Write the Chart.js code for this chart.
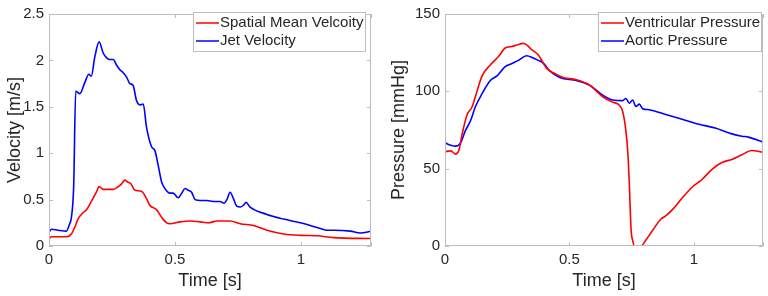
<!DOCTYPE html>
<html>
<head>
<meta charset="utf-8">
<script src="https://cdn.jsdelivr.net/npm/chart.js@4"></script>
<style>
  html, body { margin: 0; padding: 0; background: #fff; }
  .box { position: absolute; top: 0; width: 384px; height: 296px; }
  #left { left: 0; }
  #right { left: 384px; }
</style>
</head>
<body>
<div class="box" id="left"><canvas id="velChart" width="384" height="296"></canvas></div>
<div class="box" id="right"><canvas id="presChart" width="384" height="296"></canvas></div>
<script>
// Left panel: velocities over one cardiac cycle
const jetT = [0, 0.01, 0.036, 0.069, 0.082, 0.089, 0.098, 0.106, 0.122, 0.142, 0.158, 0.168, 0.182, 0.199,
  0.215, 0.228, 0.241, 0.255, 0.268, 0.281, 0.294, 0.308, 0.321, 0.334, 0.347, 0.361, 0.374, 0.387, 0.407,
  0.42, 0.434, 0.447, 0.46, 0.48, 0.493, 0.513, 0.527, 0.54, 0.553, 0.566, 0.58, 0.6, 0.626, 0.652, 0.679,
  0.695, 0.706, 0.719, 0.732, 0.745, 0.759, 0.772, 0.782, 0.798, 0.865, 0.931, 0.997, 1.064, 1.103, 1.13,
  1.196, 1.236, 1.279];
const jetV = [0.15, 0.18, 0.17, 0.16, 0.24, 0.31, 0.65, 1.67, 1.64, 1.76, 1.85, 1.83, 2.04, 2.20,
  2.08, 2.03, 2.01, 2.01, 1.95, 1.90, 1.87, 1.82, 1.75, 1.73, 1.57, 1.52, 1.53, 1.28, 1.07,
  1.03, 0.86, 0.69, 0.62, 0.57, 0.57, 0.52, 0.57, 0.62, 0.60, 0.58, 0.50, 0.49, 0.49, 0.48, 0.48,
  0.46, 0.50, 0.58, 0.51, 0.43, 0.42, 0.44, 0.47, 0.42, 0.34, 0.29, 0.25, 0.20, 0.17, 0.17,
  0.16, 0.14, 0.16];

const meanT = [0, 0.01, 0.069, 0.089, 0.102, 0.115, 0.135, 0.149, 0.168, 0.188, 0.199, 0.215, 0.255, 0.275,
  0.288, 0.301, 0.312, 0.325, 0.341, 0.367, 0.387, 0.4, 0.427, 0.447, 0.467, 0.48, 0.52, 0.56, 0.6,
  0.633, 0.666, 0.719, 0.759, 0.812, 0.865, 0.931, 0.997, 1.064, 1.13, 1.279];
const meanV = [0.08, 0.10, 0.10, 0.13, 0.20, 0.29, 0.36, 0.39, 0.48, 0.58, 0.64, 0.61, 0.61, 0.64,
  0.67, 0.71, 0.69, 0.67, 0.60, 0.59, 0.51, 0.44, 0.39, 0.31, 0.25, 0.24, 0.26, 0.27, 0.26,
  0.25, 0.27, 0.27, 0.24, 0.22, 0.17, 0.13, 0.115, 0.11, 0.09, 0.08];

// Right panel: pressures
const ventT = [0, 0.023, 0.043, 0.056, 0.069, 0.089, 0.109, 0.122, 0.149, 0.182, 0.215, 0.242, 0.269, 0.289,
  0.315, 0.328, 0.348, 0.375, 0.408, 0.435, 0.475, 0.528, 0.581, 0.634, 0.674, 0.701, 0.714, 0.725, 0.735,
  0.741, 0.748, 0.754, 0.761, 0.787, 0.807, 0.834, 0.867, 0.887, 0.914, 0.953, 0.993, 1.033, 1.073, 1.113,
  1.153, 1.193, 1.233, 1.277];
const ventP = [61, 61.5, 59.4, 62, 72.5, 85, 90, 96.5, 110, 117, 122.5, 128, 129, 130,
  131, 130, 127, 123.5, 115, 112, 109, 107.5, 104, 96.5, 93, 91, 87, 77, 60,
  39, 10, 3.75, 0, 0, 3.75, 10, 17.3, 19.4, 23.5, 31, 38, 43, 49.6, 54,
  56, 59, 61.7, 60.6];

const aortT = [0, 0.023, 0.043, 0.0625, 0.082, 0.102, 0.122, 0.149, 0.182, 0.209, 0.242, 0.269, 0.295, 0.328,
  0.355, 0.375, 0.395, 0.422, 0.461, 0.528, 0.581, 0.634, 0.674, 0.714, 0.727, 0.741, 0.754, 0.767, 0.781,
  0.794, 0.82, 0.887, 0.953, 1.02, 1.086, 1.153, 1.193, 1.219, 1.277];
const aortP = [66.7, 65.2, 64.6, 66.7, 74.6, 80.8, 90, 98.5, 107, 110, 116, 118, 120, 123,
  121.5, 120, 118.3, 113, 109, 107, 104, 97.5, 94.4, 94, 95.4, 92.3, 94.4, 90.2, 91.7,
  88.8, 88.1, 85, 81.9, 78.75, 76.25, 72.5, 71, 70.4, 67.3];

const pts = (xs, ys) => xs.map((x, i) => ({ x: x, y: ys[i] }));

const FONT = '"Liberation Sans", Arial, sans-serif';
const TXT = '#262626';
const AXIS = '#bdbdbd';

// MATLAB-style box with inward ticks, plus legend box in the upper right
const matlabFrame = {
  id: 'matlabFrame',
  afterDatasetsDraw(chart, args, opts) {
    const { ctx, chartArea: a, scales } = chart;
    ctx.save();
    ctx.strokeStyle = AXIS;
    ctx.lineWidth = 1;
    ctx.strokeRect(a.left + 0.5, a.top + 0.5, a.right - a.left - 1, a.bottom - a.top - 1);
    const tl = 4;
    ctx.beginPath();
    scales.x.ticks.forEach(t => {
      const px = Math.round(scales.x.getPixelForValue(t.value)) + 0.5;
      ctx.moveTo(px, a.bottom); ctx.lineTo(px, a.bottom - tl);
      ctx.moveTo(px, a.top); ctx.lineTo(px, a.top + tl);
    });
    scales.y.ticks.forEach(t => {
      const py = Math.round(scales.y.getPixelForValue(t.value)) + 0.5;
      ctx.moveTo(a.left, py); ctx.lineTo(a.left + tl, py);
      ctx.moveTo(a.right, py); ctx.lineTo(a.right - tl, py);
    });
    ctx.stroke();

    // legend
    const lg = opts.legend;
    ctx.fillStyle = '#fff';
    ctx.fillRect(lg.x, lg.y, lg.w, lg.h);
    ctx.strokeStyle = AXIS;
    ctx.strokeRect(lg.x + 0.5, lg.y + 0.5, lg.w - 1, lg.h - 1);
    ctx.font = '15px ' + FONT;
    ctx.textBaseline = 'middle';
    chart.data.datasets.forEach((ds, i) => {
      const yy = lg.y + 11 + i * 18;
      ctx.strokeStyle = ds.borderColor;
      ctx.lineWidth = 1.5;
      ctx.beginPath();
      ctx.moveTo(lg.x + 3, yy); ctx.lineTo(lg.x + 26, yy);
      ctx.stroke();
      ctx.fillStyle = TXT;
      ctx.fillText(ds.label, lg.x + 27, yy);
    });
    ctx.restore();
  }
};

const fmt = v => String(Math.round(v * 100) / 100);

function makeChart(id, datasets, yMax, yStep, yTitle, yWidth, padRight, legend) {
  return new Chart(document.getElementById(id), {
    type: 'line',
    data: { datasets: datasets },
    options: {
      responsive: false,
      animation: false,
      layout: { padding: { top: 6, right: padRight, left: 0, bottom: 0 } },
      plugins: {
        legend: { display: false },
        tooltip: { enabled: false },
        matlabFrame: { legend: legend }
      },
      elements: { point: { radius: 0 }, line: { borderWidth: 1.6, cubicInterpolationMode: 'monotone' } },
      scales: {
        x: {
          type: 'linear', min: 0, max: 1.278,
          grid: { display: false, drawTicks: false }, border: { display: false },
          ticks: { stepSize: 0.5, color: TXT, font: { family: FONT, size: 15 }, padding: 5, maxRotation: 0,
                   callback: v => (v % 0.5 === 0 ? fmt(v) : '') },
          title: { display: true, text: 'Time [s]', color: TXT, font: { family: FONT, size: 18 }, padding: { top: 4 } },
          afterFit: s => { s.height = 50; }
        },
        y: {
          min: 0, max: yMax,
          grid: { display: false, drawTicks: false }, border: { display: false },
          ticks: { stepSize: yStep, color: TXT, font: { family: FONT, size: 15 }, padding: 5, callback: fmt },
          title: { display: true, text: yTitle, color: TXT, font: { family: FONT, size: 18 }, padding: { bottom: 2 } },
          afterFit: s => { s.width = yWidth; }
        }
      }
    },
    plugins: [matlabFrame]
  });
}

makeChart('velChart', [
  { label: 'Spatial Mean Velcoity', data: pts(meanT, meanV), borderColor: '#ff0000' },
  { label: 'Jet Velocity', data: pts(jetT, jetV), borderColor: '#0000ff' }
], 2.5, 0.5, 'Velocity [m/s]', 49, 13, { x: 193, y: 12, w: 173, h: 40 });

makeChart('presChart', [
  { label: 'Ventricular Pressure', data: pts(ventT, ventP), borderColor: '#ff0000' },
  { label: 'Aortic Pressure', data: pts(aortT, aortP), borderColor: '#0000ff' }
], 150, 50, 'Pressure [mmHg]', 61, 3, { x: 214, y: 12, w: 164, h: 40 });
</script>
</body>
</html>
